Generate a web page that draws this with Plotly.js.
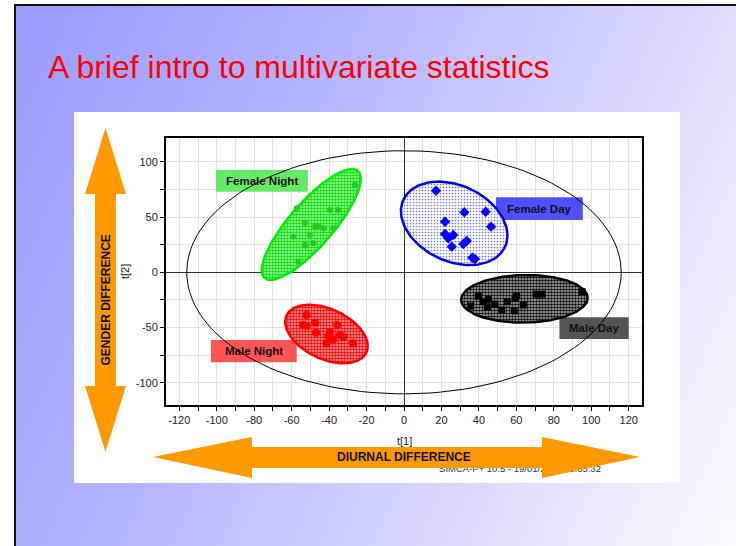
<!DOCTYPE html>
<html><head><meta charset="utf-8">
<script src="https://cdn.plot.ly/plotly-3.0.1.min.js"></script>
<style>
html,body{margin:0;padding:0;background:#fff;}
body{width:736px;height:546px;overflow:hidden;position:relative;}
#slide{position:absolute;left:14px;top:4px;width:740px;height:560px;box-sizing:border-box;border-left:2px solid #111;border-top:2px solid #111;
background:linear-gradient(115deg,#999bff 0%,#b4b5ff 35%,#d6d6ff 65%,#f3f3ff 90%,#fbfbff 100%);}
#chart{position:absolute;left:0;top:0;width:736px;height:546px;}
</style></head><body>
<div id="slide"></div><div id="chart"></div>
<script>
// ---- data (scores t[1], t[2]) ----
const femaleNightX = [-57.3,-52.9,-47.5,-43.1,-59.1,-50.2,-52.9,-48.5,-39.5,-35.1,-37.8,-26.2,-56.5,-45.5];
const femaleNightY = [57.9,44.9,41.3,39.8,32.2,33.8,24.7,26.2,56.4,56.4,39.8,79.0,9.6,42.0];
const femaleDayX = [17.1,32.2,43.6,21.9,46.5,21.9,23.7,26.3,25.5,31.7,33.5,36.5,37.9];
const femaleDayY = [73.8,54.3,54.8,45.8,41.3,34.7,30.8,33.8,23.2,25.6,28.3,13.2,12.0];
const maleDayX = [35.6,39.7,42.4,44.5,45.0,48.6,52.2,55.2,59.3,60.2,58.9,63.7,70.5,73.6,95.2];
const maleDayY = [-30.5,-21.7,-26.6,-31.1,-24.4,-28.7,-34.1,-26.6,-23.5,-21.4,-34.8,-29.6,-19.9,-19.9,-17.6];
const maleNightX = [-52.0,-53.8,-52.0,-47.5,-47.0,-39.5,-40.4,-35.6,-41.3,-37.8,-34.2,-32.4,-27.4];
const maleNightY = [-38.6,-47.7,-48.6,-45.6,-54.7,-53.8,-57.6,-47.7,-64.3,-60.6,-56.7,-58.3,-64.3];

// group ellipses: centre and two conjugate semi-axis vectors (data units)
const groupNames = ['Female Night','Female Day','Male Day','Male Night'];
const ellCenter = [[-49.5,43.3],[26.8,44.3],[64.3,-24.0],[-41.4,-55.8]];
const ellU = [[24.9,48.5],[27.1,-21.4],[33.8,0.8],[21.3,-16.8]];
const ellV = [[8.87,-13.0],[-8.6,-31.1],[0,21.5],[-5.7,-20.5]];
// Hotelling T2 ellipse
const hotCenter = [0,0];
const hotU = [116,0];
const hotV = [0,110];

// label boxes (data units) [x0,x1,y0,y1]
const labelBoxes = [[-100.4,-51.3,72.9,92.6],[49.1,95.5,47.3,67.9],[83.0,120.0,-60.4,-40.7],[-103.1,-57.3,-81.4,-61.3]];

const xTickVals = [-120,-110,-100,-90,-80,-70,-60,-50,-40,-30,-20,-10,0,10,20,30,40,50,60,70,80,90,100,110,120];
const xTickText = ['-120','','-100','','-80','','-60','','-40','','-20','','0','','20','','40','','60','','80','','100','','120'];
const yTickVals = [-100,-75,-50,-25,0,25,50,75,100];
const yTickText = ['-100','','-50','','0','','50','','100'];

// ---- helpers ----
function ell(c,u,v){
  const xs=[],ys=[];
  for(let i=0;i<=160;i++){const t=2*Math.PI*i/160;
    xs.push(c[0]+u[0]*Math.cos(t)+v[0]*Math.sin(t));
    ys.push(c[1]+u[1]*Math.cos(t)+v[1]*Math.sin(t));}
  return {x:xs,y:ys};
}
const W=736,H=546;
function pth(pts){return pts.map((p,i)=>(i?'L':'M')+(p[0]/W).toFixed(5)+','+(1-p[1]/H).toFixed(5)).join(' ')+' Z';}
const FONT='Liberation Sans, Arial, sans-serif';

const lineCols = ['#00ee00','#0000ee','#000000','#ff0000'];
const patBg = ['#b6f6b6','#ffffff','#c4c4c4','#ffb6b6'];
const patFg = ['#00e000','#7070ff','#000000','#ff0000'];
const patSol = [0.55,0.25,0.6,0.6];
const boxCols = ['#66ea66','#4f4fff','#555555','#ff5555'];
const mSym = ['circle','diamond','square','circle'];
const mCol = ['#22cc22','#0000ff','#000000','#ff0000'];
const mSize = [6,8,7,8];
const ptsX = [femaleNightX,femaleDayX,maleDayX,maleNightX];
const ptsY = [femaleNightY,femaleDayY,maleDayY,maleNightY];

const traces=[];
const h=ell(hotCenter,hotU,hotV);
traces.push({x:h.x,y:h.y,mode:'lines',line:{color:'#000',width:1},hoverinfo:'skip'});
for(let g=0;g<4;g++){
  const e=ell(ellCenter[g],ellU[g],ellV[g]);
  traces.push({x:e.x,y:e.y,mode:'lines',fill:'toself',line:{color:lineCols[g],width:2.5},
    fillpattern:{shape:'.',fillmode:'replace',bgcolor:patBg[g],fgcolor:patFg[g],size:3,solidity:patSol[g]},name:groupNames[g]});
  traces.push({x:ptsX[g],y:ptsY[g],mode:'markers',marker:{symbol:mSym[g],color:mCol[g],size:mSize[g]},name:groupNames[g]});
}

const shapes=[];
shapes.push({type:'rect',xref:'paper',yref:'paper',x0:74/W,x1:680/W,y0:1-483/H,y1:1-112/H,fillcolor:'#ffffff',line:{width:0},layer:'below'});
for(let g=0;g<4;g++){const b=labelBoxes[g];
  shapes.push({type:'rect',xref:'x',yref:'y',x0:b[0],x1:b[1],y0:b[2],y1:b[3],fillcolor:boxCols[g],line:{width:0},layer:'between'});}
shapes.push({type:'rect',xref:'paper',yref:'paper',x0:430/W,x1:610/W,y0:1-474/H,y1:1-462/H,fillcolor:'rgba(0,0,0,0)',line:{width:0},layer:'above',
  label:{text:'SIMCA-P+ 10.5 - 19/01/2007 15:35:32',font:{family:FONT,size:9.5,color:'#333'},textposition:'middle center'}});
shapes.push({type:'path',xref:'paper',yref:'paper',layer:'above',fillcolor:'#ff9900',line:{width:0},
  path:pth([[153,457],[252,437],[252,447],[542,447],[542,437],[640,457],[542,478],[542,468],[252,468],[252,478]])});
shapes.push({type:'path',xref:'paper',yref:'paper',layer:'above',fillcolor:'#ff9900',line:{width:0},
  path:pth([[105.5,128],[126,194],[116,194],[116,386],[126,386],[105.5,452],[85,386],[95,386],[95,194],[85,194]])});

const ann=[];
ann.push({xref:'paper',yref:'paper',x:46/W,y:1-67/H,xanchor:'left',yanchor:'middle',showarrow:false,
  text:'A brief intro to multivariate statistics',font:{family:FONT,size:32,color:'#ff0000'}});
ann.push({xref:'paper',yref:'paper',x:404/W,y:1-441/H,xanchor:'center',yanchor:'middle',showarrow:false,text:'t[1]',font:{family:FONT,size:11,color:'#222'}});
ann.push({xref:'paper',yref:'paper',x:125/W,y:1-272/H,xanchor:'center',yanchor:'middle',showarrow:false,textangle:-90,text:'t[2]',font:{family:FONT,size:11,color:'#222'}});
ann.push({xref:'paper',yref:'paper',x:105.5/W,y:1-300/H,xanchor:'center',yanchor:'middle',showarrow:false,textangle:-90,text:'<b>GENDER DIFFERENCE</b>',font:{family:FONT,size:12,color:'#111'}});
ann.push({xref:'paper',yref:'paper',x:404/W,y:1-457/H,xanchor:'center',yanchor:'middle',showarrow:false,text:'<b>DIURNAL DIFFERENCE</b>',font:{family:FONT,size:12,color:'#111'}});
for(let g=0;g<4;g++){const b=labelBoxes[g];
  ann.push({xref:'x',yref:'y',x:(b[0]+b[1])/2,y:(b[2]+b[3])/2,showarrow:false,text:'<b>'+groupNames[g]+'</b>',font:{family:FONT,size:11.5,color:'#111'}});}

const axCommon={showline:true,linecolor:'#000',linewidth:2,mirror:true,ticks:'outside',ticklen:4,tickcolor:'#000',tickwidth:1,
  showgrid:true,gridcolor:'#e2e2e2',gridwidth:1,zeroline:true,zerolinecolor:'#333',zerolinewidth:1,
  tickfont:{family:FONT,size:11,color:'#222'},tickmode:'array',fixedrange:true};
const layout={width:W,height:H,margin:{l:0,r:0,t:0,b:0},paper_bgcolor:'rgba(0,0,0,0)',plot_bgcolor:'#ffffff',showlegend:false,
  xaxis:Object.assign({},axCommon,{domain:[166/W,642/W],range:[-127.1,127.1],tickvals:xTickVals,ticktext:xTickText}),
  yaxis:Object.assign({},axCommon,{domain:[1-404.5/H,1-138/H],range:[-119.6,121.5],tickvals:yTickVals,ticktext:yTickText}),
  shapes:shapes,annotations:ann,font:{family:FONT}};
Plotly.newPlot('chart',traces,layout,{staticPlot:true,displayModeBar:false});
</script></body></html>
